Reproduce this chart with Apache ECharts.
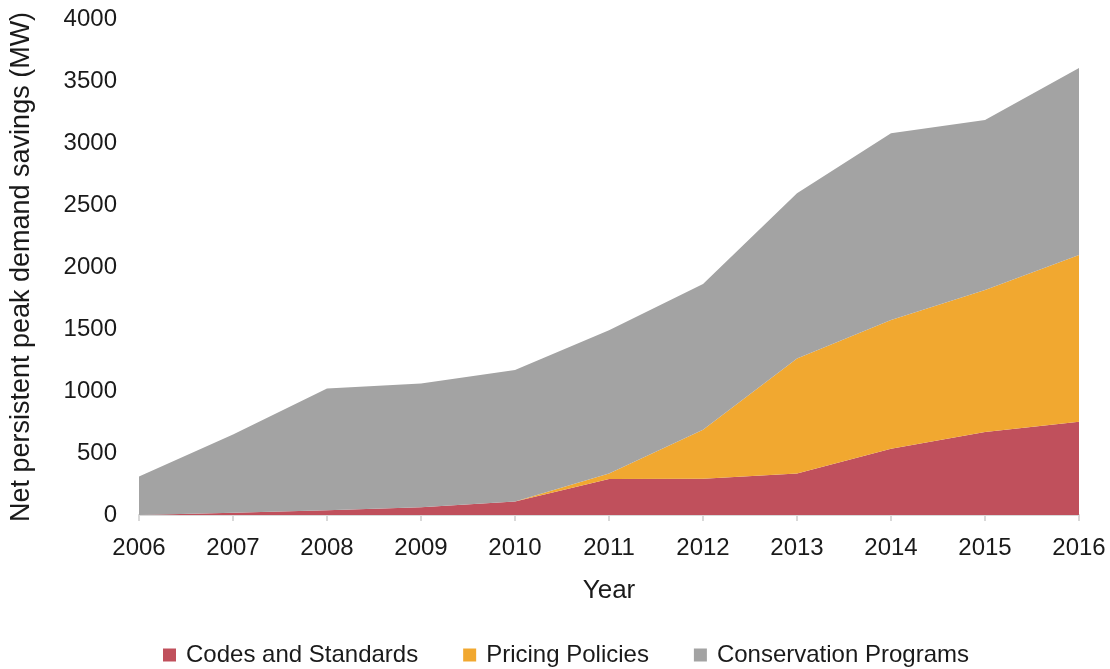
<!DOCTYPE html>
<html>
<head>
<meta charset="utf-8">
<script src="https://cdn.jsdelivr.net/npm/echarts@6/dist/echarts.min.js"></script>
<style>
html,body{margin:0;padding:0;background:#fff;}
#chart{width:1110px;height:669px;}
</style>
</head>
<body>
<div id="chart"></div>
<script>
const years = ['2006','2007','2008','2009','2010','2011','2012','2013','2014','2015','2016'];
const codesAndStandards = [0, 18, 38, 62, 108, 290, 292, 335, 535, 670, 752];
const pricingPolicies = [0, 0, 0, 0, 0, 45, 395, 927, 1037, 1145, 1344];
const conservationPrograms = [310, 632, 982, 998, 1062, 1155, 1175, 1333, 1506, 1370, 1509];
const yTicks = [0, 500, 1000, 1500, 2000, 2500, 3000, 3500, 4000];

const font = 'Liberation Sans';
const textColor = '#1a1a1a';
const chart = echarts.init(document.getElementById('chart'));

function areaSeries(name, data, color) {
  return {
    name: name,
    type: 'line',
    stack: 'total',
    data: data,
    showSymbol: false,
    symbol: 'none',
    lineStyle: { width: 0 },
    areaStyle: { color: color, opacity: 1 },
    itemStyle: { color: color },
    emphasis: { disabled: true }
  };
}

chart.setOption({
  animation: false,
  textStyle: { fontFamily: font },
  grid: { left: 132, right: 31, top: 19, bottom: 154, containLabel: false },
  xAxis: {
    type: 'category',
    data: years,
    boundaryGap: false,
    name: 'Year',
    nameLocation: 'middle',
    nameGap: 63,
    nameTextStyle: { fontSize: 26, color: textColor, fontFamily: font },
    axisLine: { show: true, lineStyle: { color: '#d9d9d9', width: 2 } },
    axisTick: { show: true, length: 6, lineStyle: { color: '#d9d9d9', width: 2 } },
    axisLabel: { fontSize: 24, color: textColor, margin: 21, fontFamily: font },
    splitLine: { show: false }
  },
  yAxis: {
    type: 'value',
    min: yTicks[0],
    max: yTicks[yTicks.length - 1],
    interval: 500,
    name: 'Net persistent peak demand savings (MW)',
    nameLocation: 'middle',
    nameGap: 104,
    nameTextStyle: { fontSize: 27, color: textColor, fontFamily: font },
    axisLine: { show: false },
    axisTick: { show: false },
    axisLabel: { fontSize: 24, color: textColor, margin: 22, fontFamily: font, formatter: v => String(v) },
    splitLine: { show: false }
  },
  legend: {
    bottom: -3,
    left: 158,
    itemWidth: 13,
    itemHeight: 13,
    itemGap: 45,
    icon: 'rect',
    textStyle: { fontSize: 24, color: textColor, fontFamily: font, padding: [0, 0, 0, 5] },
    data: ['Codes and Standards', 'Pricing Policies', 'Conservation Programs']
  },
  series: [
    areaSeries('Codes and Standards', codesAndStandards, '#c0505c'),
    areaSeries('Pricing Policies', pricingPolicies, '#f1a830'),
    areaSeries('Conservation Programs', conservationPrograms, '#a3a3a3')
  ]
});
</script>
</body>
</html>
